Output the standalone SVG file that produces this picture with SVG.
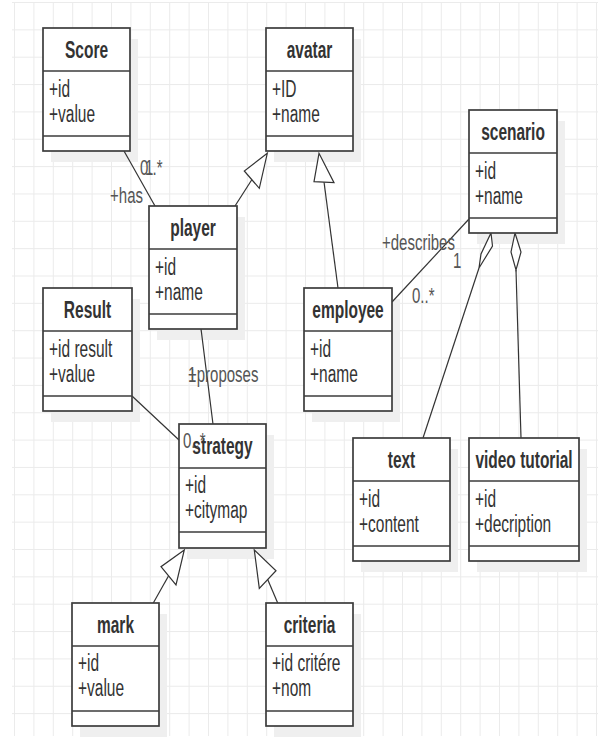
<svg xmlns="http://www.w3.org/2000/svg" width="600" height="738" viewBox="0 0 600 738">
<style>
.grid{stroke:#ebebeb;stroke-width:1;fill:none}
.shadow{fill:#efefef}
.box{fill:#ffffff;stroke:#3c3c3c;stroke-width:1.7}
.div{stroke:#3c3c3c;stroke-width:1.7}
.t{font-family:"Liberation Sans",Arial,sans-serif;font-size:15.5px;fill:#333333}
.title{font-weight:bold;text-anchor:middle}
.lbl{font-family:"Liberation Sans",Arial,sans-serif;font-size:15px;fill:#555555}
.edge{stroke:#333333;stroke-width:1.2;fill:none}
.head{stroke:#333333;stroke-width:1.2;fill:#ffffff}
</style>
<rect width="600" height="738" fill="#ffffff"/>
<path class="grid" d="M14.5 2V736M33.9 2V736M53.3 2V736M72.7 2V736M92.1 2V736M111.5 2V736M130.9 2V736M150.3 2V736M169.7 2V736M189.1 2V736M208.5 2V736M227.9 2V736M247.3 2V736M266.7 2V736M286.1 2V736M305.5 2V736M324.9 2V736M344.3 2V736M363.7 2V736M383.1 2V736M402.5 2V736M421.9 2V736M441.3 2V736M460.7 2V736M480.1 2V736M499.5 2V736M518.9 2V736M538.3 2V736M557.7 2V736M577.1 2V736M596.5 2V736M12 2.5H598M12 29.85H598M12 57.2H598M12 84.55H598M12 111.9H598M12 139.25H598M12 166.6H598M12 193.95H598M12 221.3H598M12 248.65H598M12 276H598M12 303.35H598M12 330.7H598M12 358.05H598M12 385.4H598M12 412.75H598M12 440.1H598M12 467.45H598M12 494.8H598M12 522.15H598M12 549.5H598M12 576.85H598M12 604.2H598M12 631.55H598M12 658.9H598M12 686.25H598M12 713.6H598"/>

<g id="shadows">
<rect class="shadow" x="51" y="39" width="87" height="123"/>
<rect class="shadow" x="274" y="39" width="87" height="123"/>
<rect class="shadow" x="477" y="121" width="88" height="123"/>
<rect class="shadow" x="157" y="217" width="88" height="123"/>
<rect class="shadow" x="51" y="299" width="89" height="123"/>
<rect class="shadow" x="312" y="299" width="88" height="123"/>
<rect class="shadow" x="187" y="435" width="87" height="124"/>
<rect class="shadow" x="361" y="449" width="97" height="123"/>
<rect class="shadow" x="477" y="449" width="110" height="123"/>
<rect class="shadow" x="80" y="614" width="87" height="123"/>
<rect class="shadow" x="274" y="614" width="87" height="123"/>
</g>

<g id="connectors">
<path class="edge" d="M124 151L155 206"/>
<path class="edge" d="M235 206L251.8 179.7"/>
<polygon class="head" points="267.3,153.3 244.3,171 259.3,188.3"/>
<path class="edge" d="M324 182L338 288"/>
<polygon class="head" points="319,153.3 314,181.7 334,182.7"/>
<path class="edge" d="M469 219L392 302"/>
<path class="edge" d="M479 268L423 438"/>
<polygon class="head" points="491,233 492.5,246 479,268 481,254"/>
<path class="edge" d="M516 270L521 438"/>
<polygon class="head" points="515,233 521,252 516,270 511,252"/>
<path class="edge" d="M201 329L213 424"/>
<path class="edge" d="M132 396L179 440"/>
<path class="edge" d="M153.3 603L168.5 576"/>
<polygon class="head" points="184.3,550 161,566.7 176,585"/>
<path class="edge" d="M277.7 603L267.7 579.5"/>
<polygon class="head" points="254.3,550 276,570.7 259.3,588.3"/>
</g>

<g id="Score">
<rect class="box" x="43" y="28" width="87" height="123"/>
<path class="div" d="M43 71H130M43 136H130"/>
<text class="t title" transform="matrix(1 0 0 1.55 86.5 58)">Score</text>
<text class="t" transform="matrix(1 0 0 1.55 49 97)">+id</text>
<text class="t" transform="matrix(1 0 0 1.55 49 122)">+value</text>
</g>

<g id="avatar">
<rect class="box" x="266" y="28" width="87" height="123"/>
<path class="div" d="M266 71H353M266 136H353"/>
<text class="t title" transform="matrix(1 0 0 1.55 309.5 58)">avatar</text>
<text class="t" transform="matrix(1 0 0 1.55 272 97)">+ID</text>
<text class="t" transform="matrix(1 0 0 1.55 272 122)">+name</text>
</g>

<g id="scenario">
<rect class="box" x="469" y="110" width="88" height="123"/>
<path class="div" d="M469 153H557M469 218H557"/>
<text class="t title" transform="matrix(1 0 0 1.55 513 140)">scenario</text>
<text class="t" transform="matrix(1 0 0 1.55 475 179)">+id</text>
<text class="t" transform="matrix(1 0 0 1.55 475 204)">+name</text>
</g>

<g id="player">
<rect class="box" x="149" y="206" width="88" height="123"/>
<path class="div" d="M149 249H237M149 314H237"/>
<text class="t title" transform="matrix(1 0 0 1.55 193 236)">player</text>
<text class="t" transform="matrix(1 0 0 1.55 155 275)">+id</text>
<text class="t" transform="matrix(1 0 0 1.55 155 300)">+name</text>
</g>

<g id="Result">
<rect class="box" x="43" y="288" width="89" height="123"/>
<path class="div" d="M43 331H132M43 396H132"/>
<text class="t title" transform="matrix(1 0 0 1.55 87.5 318)">Result</text>
<text class="t" transform="matrix(1 0 0 1.55 49 357)">+id result</text>
<text class="t" transform="matrix(1 0 0 1.55 49 382)">+value</text>
</g>

<g id="employee">
<rect class="box" x="304" y="288" width="88" height="123"/>
<path class="div" d="M304 331H392M304 396H392"/>
<text class="t title" transform="matrix(1 0 0 1.55 348 318)">employee</text>
<text class="t" transform="matrix(1 0 0 1.55 310 357)">+id</text>
<text class="t" transform="matrix(1 0 0 1.55 310 382)">+name</text>
</g>

<g id="strategy">
<rect class="box" x="179" y="424" width="87" height="124"/>
<path class="div" d="M179 468H266M179 532H266"/>
<text class="t title" transform="matrix(1 0 0 1.55 222.5 454)">strategy</text>
<text class="t" transform="matrix(1 0 0 1.55 185 493)">+id</text>
<text class="t" transform="matrix(1 0 0 1.55 185 518)">+citymap</text>
</g>

<g id="text">
<rect class="box" x="353" y="438" width="97" height="123"/>
<path class="div" d="M353 481H450M353 546H450"/>
<text class="t title" transform="matrix(1 0 0 1.55 401.5 468)">text</text>
<text class="t" transform="matrix(1 0 0 1.55 359 507)">+id</text>
<text class="t" transform="matrix(1 0 0 1.55 359 532)">+content</text>
</g>

<g id="video-tutorial">
<rect class="box" x="469" y="438" width="110" height="123"/>
<path class="div" d="M469 481H579M469 546H579"/>
<text class="t title" transform="matrix(1 0 0 1.55 524 468)">video tutorial</text>
<text class="t" transform="matrix(1 0 0 1.55 475 507)">+id</text>
<text class="t" transform="matrix(1 0 0 1.55 475 532)">+decription</text>
</g>

<g id="mark">
<rect class="box" x="72" y="603" width="87" height="123"/>
<path class="div" d="M72 646H159M72 711H159"/>
<text class="t title" transform="matrix(1 0 0 1.55 115.5 633)">mark</text>
<text class="t" transform="matrix(1 0 0 1.55 78 671)">+id</text>
<text class="t" transform="matrix(1 0 0 1.55 78 696)">+value</text>
</g>

<g id="criteria">
<rect class="box" x="266" y="603" width="87" height="123"/>
<path class="div" d="M266 646H353M266 711H353"/>
<text class="t title" transform="matrix(1 0 0 1.55 309.5 633)">criteria</text>
<text class="t" transform="matrix(1 0 0 1.55 272 671)">+id critére</text>
<text class="t" transform="matrix(1 0 0 1.55 272 696)">+nom</text>
</g>

<g id="labels">
<text class="lbl" text-anchor="end" transform="matrix(1 0 0 1.5 143 203)">+has</text>
<text class="lbl" transform="matrix(1 0 0 1.5 140 175)">0..*</text>
<text class="lbl" transform="matrix(1 0 0 1.5 145 175)">1</text>
<text class="lbl" transform="matrix(1 0 0 1.5 382 250)">+describes</text>
<text class="lbl" transform="matrix(1 0 0 1.5 453 268)">1</text>
<text class="lbl" transform="matrix(1 0 0 1.5 412 303)">0..*</text>
<text class="lbl" transform="matrix(1 0 0 1.5 188 382)">1</text>
<text class="lbl" transform="matrix(1 0 0 1.5 188 382)">+proposes</text>
<text class="lbl" transform="matrix(1 0 0 1.5 183 448)">0..*</text>
</g>
</svg>
